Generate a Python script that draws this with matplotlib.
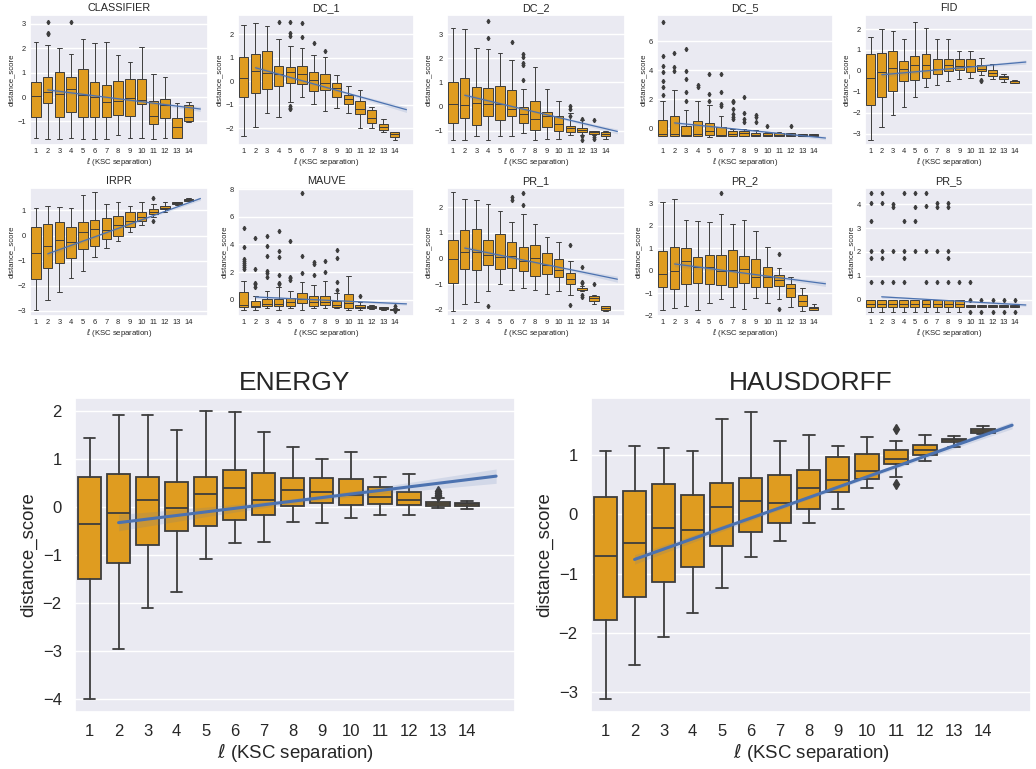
import numpy as np
import matplotlib.pyplot as plt
import seaborn as sns

sns.set_theme(style='darkgrid')
plt.rcParams['font.family'] = ['Liberation Sans', 'DejaVu Sans']

ells = list(range(1, 15))

# box rows: whislo, q1, med, q3, whishi  (one row per ell)
classifier_box = [
    [-1.69, -0.80, 0.03, 0.60, 2.24], [-1.73, -0.26, 0.22, 0.83, 2.11],
    [-1.73, -0.83, 0.11, 1.01, 2.01], [-1.69, -0.61, 0.31, 0.82, 1.74],
    [-1.73, -0.80, 0.08, 1.16, 2.38], [-1.73, -0.80, 0.01, 0.60, 2.19],
    [-1.73, -0.83, -0.20, 0.49, 2.26], [-1.55, -0.73, -0.16, 0.64, 1.70],
    [-1.66, -0.78, -0.03, 0.72, 1.41], [-1.67, -0.30, -0.12, 0.72, 2.03],
    [-1.73, -1.12, -0.78, -0.15, 0.94], [-1.69, -0.87, -0.33, -0.10, 0.80],
    [-1.68, -1.66, -1.24, -0.87, -0.23], [-1.01, -0.98, -0.83, -0.34, -0.19]]
classifier_fliers = {2: [3.06, 2.63, 2.56], 4: [3.06]}
classifier_fit = (0.29, -0.49)
classifier_band = (0.09, 0.04, 0.10)

dc1_box = [
    [-2.33, -0.66, 0.14, 1.03, 2.40], [-1.93, -0.49, 0.44, 1.17, 2.46],
    [-1.36, -0.33, 0.36, 1.29, 2.36], [-1.50, -0.20, 0.29, 0.66, 1.80],
    [-0.90, -0.06, 0.37, 0.60, 1.51], [-0.69, -0.11, 0.31, 0.64, 1.41],
    [-0.99, -0.41, 0.03, 0.39, 1.13], [-1.26, -0.37, -0.09, 0.31, 1.03],
    [-1.14, -0.69, -0.30, -0.09, 0.27], [-1.34, -0.97, -0.76, -0.57, -0.19],
    [-1.97, -1.41, -1.20, -0.83, -0.37], [-1.99, -1.76, -1.56, -1.23, -1.09],
    [-2.17, -2.09, -1.94, -1.83, -1.60], [-2.51, -2.37, -2.26, -2.16, -2.14]]
dc1_fliers = {4: [2.53], 5: [2.53, 2.03, 1.93, -1.06, -1.14, -1.20],
              6: [2.49, 1.89], 7: [1.63], 8: [1.30]}
dc1_fit = (0.57, -1.21)
dc1_band = (0.10, 0.05, 0.12)

dc2_box = [
    [-1.37, -0.68, 0.10, 1.03, 3.27], [-1.37, -0.48, 0.07, 1.20, 3.23],
    [-1.21, -0.76, 0.14, 0.79, 2.44], [-1.37, -0.41, 0.12, 0.77, 2.37],
    [-1.21, -0.55, 0.11, 0.86, 2.21], [-1.21, -0.41, -0.11, 0.68, 1.94],
    [-1.08, -0.69, -0.30, 0.00, 0.74], [-1.37, -0.97, -0.51, 0.25, 1.64],
    [-1.35, -0.83, -0.41, -0.21, 0.72], [-1.35, -1.01, -0.72, -0.41, 0.25],
    [-1.17, -1.06, -0.90, -0.80, -0.28], [-1.17, -1.06, -0.98, -0.87, -0.55],
    [-1.17, -1.13, -1.06, -1.02, -1.01], [-1.35, -1.21, -1.13, -1.06, -1.03]]
dc2_fliers = {4: [3.54, 2.84], 6: [2.66], 7: [2.17, 2.04, 1.79, 1.72, 1.10],
              11: [0.03, -0.11, -0.41], 12: [-0.52, -1.21, -1.38],
              13: [-0.55, -1.24, -1.35]}
dc2_fit = (0.47, -1.03)
dc2_band = (0.10, 0.04, 0.10)

dc5_box = [
    [-0.51, -0.51, -0.39, 0.60, 1.87], [-0.51, -0.51, -0.39, 0.83, 2.65],
    [-0.51, -0.51, -0.44, 0.14, 1.27], [-0.51, -0.51, -0.39, 0.48, 1.87],
    [-0.58, -0.44, -0.21, 0.39, 1.59], [-0.51, -0.51, -0.46, 0.07, 0.85],
    [-0.51, -0.51, -0.39, -0.16, -0.02], [-0.51, -0.51, -0.35, -0.21, -0.05],
    [-0.51, -0.51, -0.46, -0.32, -0.12], [-0.55, -0.51, -0.44, -0.32, -0.25],
    [-0.51, -0.51, -0.44, -0.35, -0.25], [-0.51, -0.51, -0.44, -0.35, -0.32],
    [-0.53, -0.53, -0.46, -0.37, -0.37], [-0.53, -0.53, -0.46, -0.37, -0.37]]
dc5_fliers = {1: [7.33, 4.95, 4.26, 3.87, 3.23, 2.83, 2.30], 2: [5.18, 4.22, 3.92],
              3: [5.44, 3.92, 3.41, 2.49, 1.91], 4: [3.00, 2.83],
              5: [3.71, 2.33, 1.91], 6: [3.76, 2.49, 1.64, 1.50],
              7: [1.91, 1.80, 1.34, 0.99, 0.76, 0.65], 8: [2.14, 1.04, 0.65, 0.41],
              9: [0.88, 0.76, 0.41], 10: [0.18], 12: [0.18]}
dc5_fit = (0.37, -0.67)
dc5_band = (0.12, 0.05, 0.12)

fid_box = [
    [-3.33, -1.64, -0.35, 0.82, 1.62], [-2.67, -1.27, -0.08, 0.87, 1.98],
    [-2.12, -0.95, 0.14, 0.93, 1.91], [-1.75, -0.50, 0.10, 0.48, 1.51],
    [-1.25, -0.43, 0.29, 0.72, 2.35], [-0.77, -0.34, 0.29, 0.79, 2.06],
    [-0.69, -0.16, 0.08, 0.58, 1.53], [-0.48, -0.03, 0.29, 0.58, 1.51],
    [-0.40, 0.02, 0.23, 0.56, 0.93], [-0.34, -0.06, 0.21, 0.56, 0.96],
    [-0.18, -0.02, 0.10, 0.27, 0.61], [-0.40, -0.27, -0.10, 0.05, 0.34],
    [-0.55, -0.39, -0.31, -0.24, -0.16], [-0.59, -0.56, -0.51, -0.47, -0.45]]
fid_fliers = {11: [-0.43, -0.51]}
fid_fit = (-0.19, 0.42)
fid_band = (0.12, 0.05, 0.10)

irpr_box = [
    [-2.98, -1.72, -0.69, 0.33, 1.09], [-2.58, -1.31, -0.42, 0.44, 1.17],
    [-2.23, -1.09, -0.16, 0.53, 1.14], [-1.70, -0.91, -0.24, 0.33, 1.09],
    [-1.40, -0.52, 0.15, 0.54, 1.62], [-0.86, -0.40, 0.26, 0.61, 1.74],
    [-0.49, -0.13, 0.23, 0.68, 1.26], [-0.23, -0.01, 0.42, 0.77, 1.32],
    [0.13, 0.34, 0.57, 0.95, 1.17], [0.40, 0.57, 0.73, 0.93, 1.32],
    [0.74, 0.87, 0.95, 1.06, 1.26], [0.93, 1.05, 1.10, 1.17, 1.32],
    [1.21, 1.25, 1.28, 1.32, 1.35], [1.36, 1.38, 1.42, 1.46, 1.50]]
irpr_fliers = {11: [1.48, 0.56]}
irpr_fit = (-0.73, 1.47)
irpr_band = (0.10, 0.04, 0.07)

mauve_box = [
    [-0.76, -0.53, -0.38, 0.53, 1.34], [-0.76, -0.57, -0.43, -0.10, 0.24],
    [-0.64, -0.50, -0.33, 0.05, 0.60], [-0.76, -0.48, -0.31, 0.07, 0.95],
    [-0.62, -0.43, -0.17, 0.10, 0.60], [-0.76, -0.24, 0.05, 0.48, 1.26],
    [-0.62, -0.43, -0.17, 0.29, 1.03], [-0.64, -0.38, -0.19, 0.29, 1.38],
    [-0.64, -0.57, -0.38, -0.12, 0.48], [-0.74, -0.60, -0.24, 0.41, 1.74],
    [-0.74, -0.64, -0.53, -0.41, -0.19], [-0.71, -0.64, -0.55, -0.48, -0.41],
    [-0.74, -0.69, -0.62, -0.55, -0.52], [-0.78, -0.76, -0.71, -0.67, -0.64]]
mauve_fliers = {1: [5.20, 3.82, 2.95, 2.80, 2.65, 2.50, 2.35, 2.25],
                2: [4.46, 2.22, 1.24, 1.10, 0.95], 3: [4.58, 3.91, 3.15, 2.05, 1.91, 1.62],
                4: [5.01, 3.50, 3.10, 1.81, 1.19, 1.10], 5: [4.22, 1.67, 1.55, 1.43],
                6: [7.71, 3.15, 1.91], 7: [2.74, 2.58, 1.81], 8: [2.82, 1.98],
                9: [3.63, 3.03, 1.26, 0.67], 11: [0.26], 14: [-0.45, -0.84]}
mauve_fit = (0.19, -0.31)
mauve_band = (0.12, 0.05, 0.10)

pr1_box = [
    [-2.05, -0.97, 0.00, 0.73, 2.59], [-1.79, -0.42, 0.24, 1.10, 2.34],
    [-1.69, -0.44, 0.26, 1.15, 2.30], [-1.27, -0.26, 0.14, 0.72, 2.13],
    [-0.99, -0.41, 0.05, 0.94, 1.87], [-1.23, -0.39, 0.10, 0.63, 1.41],
    [-1.14, -0.48, -0.08, 0.47, 1.74], [-1.23, -0.67, 0.01, 0.51, 1.35],
    [-1.40, -0.60, -0.24, 0.21, 0.84], [-1.29, -0.73, -0.44, -0.03, 0.63],
    [-1.42, -0.99, -0.81, -0.58, -0.09], [-1.27, -1.25, -1.22, -1.16, -1.07],
    [-1.78, -1.66, -1.56, -1.46, -1.42], [-2.04, -2.01, -1.92, -1.86, -1.84]]
pr1_fliers = {4: [-1.84], 6: [2.40, 2.30], 7: [2.56, 2.08], 11: [0.51, -1.82],
              12: [-0.35, -0.90, -0.97, -1.42, -1.49], 13: [-0.99]}
pr1_fit = (0.41, -0.81)
pr1_band = (0.10, 0.04, 0.12)

pr2_box = [
    [-1.74, -0.73, -0.13, 0.89, 3.04], [-1.64, -0.81, 0.00, 1.07, 3.18],
    [-1.57, -0.57, 0.45, 1.00, 2.24], [-1.74, -0.54, 0.16, 0.62, 2.20],
    [-1.42, -0.57, 0.16, 0.72, 2.16], [-1.25, -0.63, 0.01, 0.69, 2.54],
    [-1.61, -0.73, 0.03, 0.95, 2.08], [-1.69, -0.54, 0.07, 0.66, 2.26],
    [-1.20, -0.70, -0.25, 0.54, 1.77], [-1.44, -0.73, -0.28, 0.16, 1.07],
    [-1.25, -0.69, -0.40, -0.18, 0.15], [-1.61, -1.17, -0.76, -0.56, -0.25],
    [-1.76, -1.57, -1.35, -1.09, -0.76], [-1.74, -1.72, -1.66, -1.60, -1.45]]
pr2_fliers = {6: [3.45], 11: [0.75, -1.69]}
pr2_fit = (0.31, -0.57)
pr2_band = (0.12, 0.05, 0.12)

pr5_box = [[-0.49, -0.29, -0.18, -0.01, -0.01]] * 9 + \
          [[-0.30, -0.30, -0.26, -0.22, -0.22]] * 5
pr5_fliers = {1: [4.46, 4.04, 3.30, 2.05, 1.77, 0.75], 2: [4.46, 4.04, 2.05, 1.77, 0.75],
              3: [4.00, 3.86, 2.05, 0.75], 4: [4.46, 3.30, 2.05, 1.77, 0.75],
              5: [4.46, 3.86, 3.30, 2.05], 6: [4.46, 3.93, 2.05, 0.75],
              7: [4.04, 3.86, 2.05, 0.75], 8: [4.04, 3.86, 2.05, 1.77, 0.75],
              9: [0.75], 10: [0.75, -0.02, -0.50], 11: [-0.02, -0.50],
              12: [-0.02, -0.50], 13: [-0.02, -0.50], 14: [-0.02, -0.50]}
pr5_fit = (0.13, -0.21)
pr5_band = (0.06, 0.03, 0.06)

energy_box = [
    [-4.00, -1.51, -0.36, 0.62, 1.44], [-2.97, -1.17, -0.12, 0.69, 1.91],
    [-2.11, -0.80, 0.14, 0.62, 1.91], [-1.77, -0.50, -0.02, 0.52, 1.60],
    [-1.09, -0.39, 0.26, 0.63, 1.99], [-0.75, -0.28, 0.40, 0.77, 1.98],
    [-0.73, -0.17, 0.15, 0.70, 1.57], [-0.31, 0.01, 0.35, 0.60, 1.24],
    [-0.33, 0.09, 0.31, 0.61, 0.99], [-0.23, 0.04, 0.24, 0.59, 1.15],
    [-0.17, 0.06, 0.20, 0.41, 0.63], [-0.17, 0.03, 0.15, 0.31, 0.68],
    [-0.03, 0.01, 0.06, 0.10, 0.18], [-0.04, 0.01, 0.05, 0.09, 0.12]]
energy_fliers = {13: [0.32, 0.29, 0.25, 0.22]}
energy_fit = (-0.33, 0.64)
energy_band = (0.17, 0.05, 0.15)

hausdorff_box = [
    [-3.12, -1.79, -0.70, 0.30, 1.07], [-2.55, -1.40, -0.49, 0.40, 1.16],
    [-2.08, -1.14, -0.23, 0.52, 1.12], [-1.67, -0.89, -0.27, 0.33, 1.07],
    [-1.24, -0.54, 0.12, 0.54, 1.61], [-0.72, -0.29, 0.23, 0.62, 1.74],
    [-0.45, -0.14, 0.20, 0.67, 1.25], [-0.14, 0.09, 0.44, 0.76, 1.34],
    [0.10, 0.38, 0.59, 0.97, 1.15], [0.45, 0.60, 0.73, 1.02, 1.31],
    [0.63, 0.86, 0.93, 1.09, 1.24], [0.91, 1.01, 1.09, 1.17, 1.35],
    [1.14, 1.22, 1.26, 1.28, 1.33], [1.36, 1.38, 1.41, 1.44, 1.49]]
hausdorff_fliers = {11: [1.44, 0.51]}
hausdorff_fit = (-0.76, 1.51)
hausdorff_band = (0.08, 0.03, 0.06)

ORANGE = '#df9c20'
GRAY = '#3d3d3d'
BLUE = '#4c72b0'

W, H = 1036, 769
fig = plt.figure(figsize=(W / 100, H / 100), dpi=100)


def add_ax(left, top, right, bottom):
    return fig.add_axes([left / W, 1 - bottom / H, (right - left) / W, (bottom - top) / H])


def draw(ax, name, box, fliers, fit, band, ylim, yticks, big):
    stats = []
    for i, (lo, q1, med, q3, hi) in enumerate(box):
        stats.append(dict(whislo=lo, q1=q1, med=med, q3=q3, whishi=hi,
                          fliers=fliers.get(i + 1, [])))
    lw = 1.3 if big else 0.7
    ms = 5 if big else 2.2
    ax.bxp(stats, positions=range(14), widths=0.8, patch_artist=True,
           boxprops=dict(facecolor=ORANGE, edgecolor=GRAY, linewidth=lw),
           medianprops=dict(color=GRAY, linewidth=lw),
           whiskerprops=dict(color=GRAY, linewidth=lw),
           capprops=dict(color=GRAY, linewidth=lw),
           flierprops=dict(marker='d', markerfacecolor=GRAY, markeredgecolor=GRAY,
                           markersize=ms, linestyle='none'))
    # regression on ell (1..14) drawn over the categorical positions
    xs = np.linspace(1, 14, 60)
    ys = fit[0] + (fit[1] - fit[0]) * (xs - 1) / 13
    t = (xs - 7.5) / 6.5
    hw_end = np.where(t < 0, band[0], band[2])
    hw = np.sqrt(band[1] ** 2 + (hw_end ** 2 - band[1] ** 2) * t ** 2)
    ax.fill_between(xs, ys - hw, ys + hw, color=BLUE, alpha=0.15, linewidth=0, zorder=3)
    ax.plot([1, 14], fit, color=BLUE, lw=2.2 if big else 0.9, zorder=4)

    ax.set_xlim(-0.5, 14.65)
    ax.set_ylim(*ylim)
    ax.set_xticks(range(14))
    ax.set_xticklabels(ells)
    ax.set_yticks(yticks)
    ax.set_yticklabels([str(v).replace('-', '\u2212') for v in yticks])
    ax.xaxis.grid(False)
    fs_tick = 12 if big else 5.4
    fs_lab = 13.4 if big else 5.6
    ax.tick_params(axis='x', length=0, labelsize=fs_tick, pad=9 if big else 2.5,
                   colors='#262626')
    ax.tick_params(axis='y', length=0, labelsize=fs_tick, pad=9.5 if big else 3,
                   colors='#262626')
    ax.set_title(name, fontsize=19 if big else 7.8, pad=6 if big else 3)
    ax.set_xlabel(r'$\ell$ (KSC separation)', fontsize=fs_lab, labelpad=1 if big else 0.5)
    ax.set_ylabel('distance_score', fontsize=fs_lab, labelpad=4 if big else 1.5)


row1 = [
    ('CLASSIFIER', classifier_box, classifier_fliers, classifier_fit, classifier_band,
     (-1.96, 3.35), [-1, 0, 1, 2, 3]),
    ('DC_1', dc1_box, dc1_fliers, dc1_fit, dc1_band, (-2.71, 2.81), [-2, -1, 0, 1, 2]),
    ('DC_2', dc2_box, dc2_fliers, dc2_fit, dc2_band, (-1.59, 3.79), [-1, 0, 1, 2, 3]),
    ('DC_5', dc5_box, dc5_fliers, dc5_fit, dc5_band, (-1.15, 7.79), [0, 2, 4, 6]),
    ('FID', fid_box, fid_fliers, fid_fit, fid_band, (-3.55, 2.67), [-3, -2, -1, 0, 1, 2]),
]
row2 = [
    ('IRPR', irpr_box, irpr_fliers, irpr_fit, irpr_band, (-3.2, 1.89), [-3, -2, -1, 0, 1]),
    ('MAUVE', mauve_box, mauve_fliers, mauve_fit, mauve_band, (-1.19, 8.1), [0, 2, 4, 6, 8]),
    ('PR_1', pr1_box, pr1_fliers, pr1_fit, pr1_band, (-2.25, 2.76), [-2, -1, 0, 1, 2]),
    ('PR_2', pr2_box, pr2_fliers, pr2_fit, pr2_band, (-1.98, 3.68), [-2, -1, 0, 1, 2, 3]),
    ('PR_5', pr5_box, pr5_fliers, pr5_fit, pr5_band, (-0.67, 4.67), [0, 1, 2, 3, 4]),
]
lefts = [30, 238, 447, 657, 865]
rights = [208, 414, 625, 833, 1033]

for (name, box, fl, fit, band, ylim, yt), l, r in zip(row1, lefts, rights):
    draw(add_ax(l, 15, r, 145), name, box, fl, fit, band, ylim, yt, False)
for (name, box, fl, fit, band, ylim, yt), l, r in zip(row2, lefts, rights):
    draw(add_ax(l, 188, r, 316), name, box, fl, fit, band, ylim, yt, False)

draw(add_ax(75, 398, 515, 712), 'ENERGY', energy_box, energy_fliers, energy_fit,
     energy_band, (-4.28, 2.27), [-4, -3, -2, -1, 0, 1, 2], True)
draw(add_ax(591, 398, 1031, 712), 'HAUSDORFF', hausdorff_box, hausdorff_fliers,
     hausdorff_fit, hausdorff_band, (-3.34, 1.97), [-3, -2, -1, 0, 1], True)

fig.savefig('out.png', dpi=100)
